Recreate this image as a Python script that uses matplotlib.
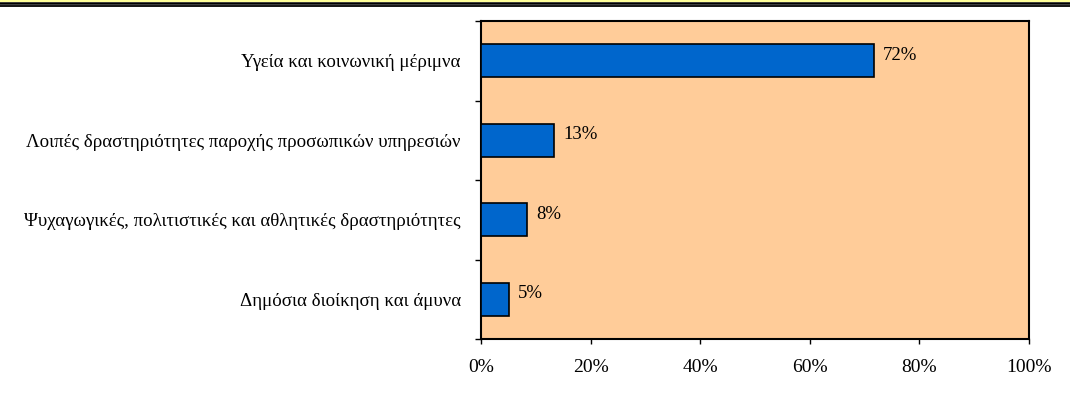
import matplotlib.pyplot as plt
from matplotlib.lines import Line2D
from matplotlib.ticker import FixedLocator

plt.rcParams['font.family'] = ['Liberation Serif', 'DejaVu Serif']

categories = [
    'Υγεία και κοινωνική μέριμνα',
    'Λοιπές δραστηριότητες παροχής προσωπικών υπηρεσιών',
    'Ψυχαγωγικές, πολιτιστικές και αθλητικές δραστηριότητες',
    'Δημόσια διοίκηση και άμυνα',
]
values = [71.7, 13.4, 8.4, 5.1]
labels = ['72%', '13%', '8%', '5%']
xticks = [0, 20, 40, 60, 80, 100]

fig = plt.figure(figsize=(10.70, 3.96), dpi=100)
fig.patch.set_facecolor('white')

# header rule: yellow strip, thick black, thin black
H = 396.0
fig.add_artist(Line2D([0, 1], [1 - 1.0 / H, 1 - 1.0 / H], color='#FFFF99', lw=1.6, transform=fig.transFigure))
fig.add_artist(Line2D([0, 1], [1 - 3.2 / H, 1 - 3.2 / H], color='black', lw=1.8, transform=fig.transFigure))
fig.add_artist(Line2D([0, 1], [1 - 6.3 / H, 1 - 6.3 / H], color='black', lw=1.3, transform=fig.transFigure))

ax = fig.add_axes([481 / 1070, 1 - 339 / H, 548 / 1070, 318 / H])
ax.set_facecolor('#FFCC99')

ypos = list(range(len(categories)))
ax.barh(ypos, values, height=0.42, color='#0066CC', edgecolor='black', linewidth=1.2, zorder=3)

for y, v, lab in zip(ypos, values, labels):
    ax.text(v + 1.7, y - 0.07, lab, ha='left', va='center', fontsize=13.5, zorder=4)

ax.set_xlim(0, 100)
ax.set_ylim(len(categories) - 0.5, -0.5)
ax.set_xticks(xticks)
ax.set_xticklabels([f'{t}%' for t in xticks], fontsize=14)

ax.yaxis.set_major_locator(FixedLocator([i - 0.5 for i in range(len(categories) + 1)]))
ax.yaxis.set_major_formatter(plt.NullFormatter())
ax.yaxis.set_minor_locator(FixedLocator(ypos))
ax.set_yticklabels(categories, minor=True, fontsize=13.6)
ax.tick_params(axis='y', which='minor', length=0, pad=14.5)
ax.tick_params(axis='y', which='major', length=4.3, width=1, direction='out')
ax.tick_params(axis='x', length=3.6, width=1, direction='out', pad=11)

for s in ax.spines.values():
    s.set_linewidth(1.5)
    s.set_color('black')

fig.savefig('out.png', dpi=100, facecolor='white')
